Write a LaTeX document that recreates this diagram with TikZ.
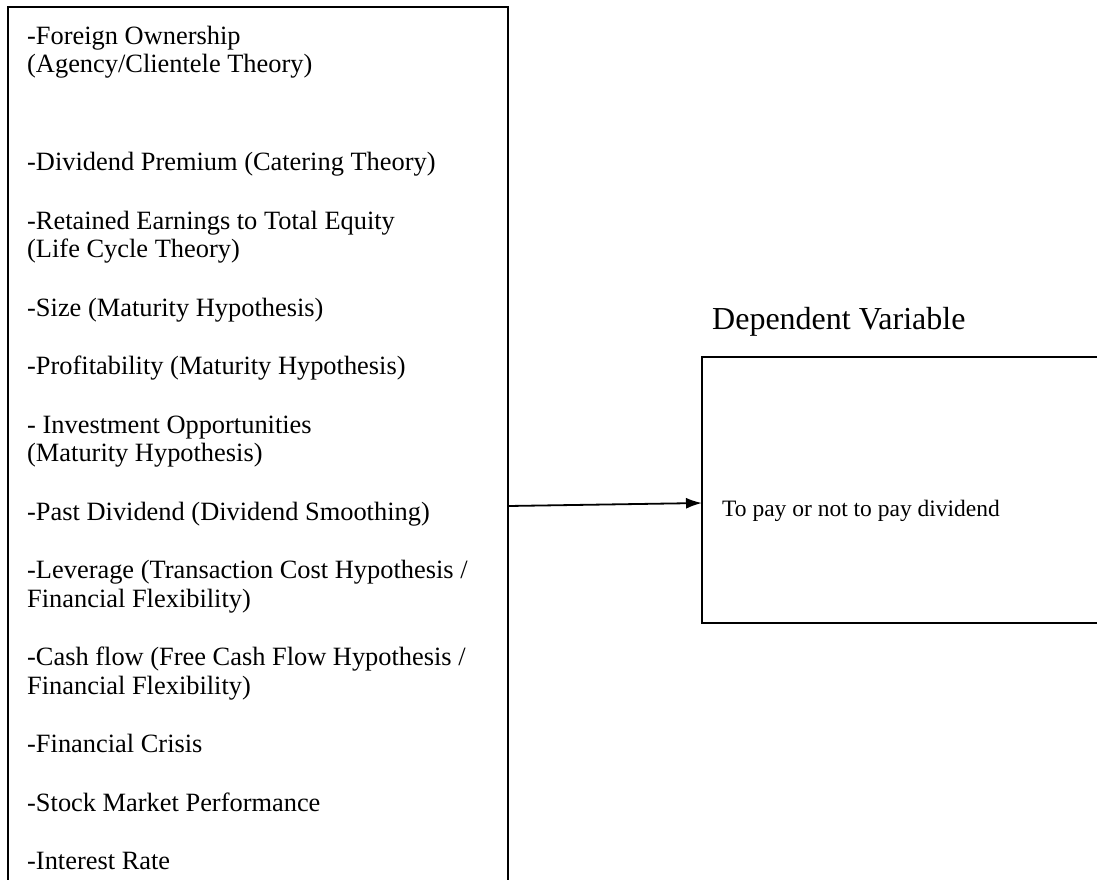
\documentclass[tikz,border=0pt]{standalone}
\usepackage{fontspec}
\setmainfont{Liberation Serif}
\usetikzlibrary{arrows.meta}
\begin{document}
\begin{tikzpicture}[x=1pt,y=-1pt,
  item/.style={anchor=base west,inner sep=0pt,font=\fontsize{26.4}{30}\selectfont},
  frame/.style={draw=black,line width=2.2pt},
  link/.style={draw=black,line width=1.8pt,-{Latex[length=16pt,width=11pt]}}]
\useasboundingbox (0,0) rectangle (1097,879);
% left box: explanatory variables (runs off the bottom edge)
\draw[frame] (8,900) -- (8,7) -- (508,7) -- (508,900);
\node[item] (v1)  at (27,44)    {-Foreign Ownership};
\node[item] (v1b) at (27,72)    {(Agency/Clientele Theory)};
\node[item] (v2)  at (27,170.5) {-Dividend Premium (Catering Theory)};
\node[item] (v3)  at (27,229)   {-Retained Earnings to Total Equity};
\node[item] (v3b) at (27,257.5) {(Life Cycle Theory)};
\node[item] (v4)  at (27,316)   {-Size (Maturity Hypothesis)};
\node[item] (v5)  at (27,374.5) {-Profitability (Maturity Hypothesis)};
\node[item] (v6)  at (27,433)   {- Investment Opportunities};
\node[item] (v6b) at (27,461.5) {(Maturity Hypothesis)};
\node[item] (v7)  at (27,520)   {-Past Dividend (Dividend Smoothing)};
\node[item] (v8)  at (27,578.5) {-Leverage (Transaction Cost Hypothesis /};
\node[item] (v8b) at (27,607)   {Financial Flexibility)};
\node[item] (v9)  at (27,665.5) {-Cash flow (Free Cash Flow Hypothesis /};
\node[item] (v9b) at (27,694)   {Financial Flexibility)};
\node[item] (v10) at (27,752.5) {-Financial Crisis};
\node[item] (v11) at (27,811)   {-Stock Market Performance};
\node[item] (v12) at (27,869.5) {-Interest Rate};
% right box: dependent variable (runs off the right edge)
\node[anchor=base west,inner sep=0pt,font=\fontsize{32}{36}\selectfont] (dvl) at (712,329) {Dependent Variable};
\draw[frame] (1120,357) -- (702,357) -- (702,623) -- (1120,623);
\coordinate (ivbox) at (508,506);
\coordinate (dvbox) at (702,503);
\node[anchor=base west,inner sep=0pt,font=\fontsize{23.5}{28}\selectfont] (dv) at (722,516) {To pay or not to pay dividend};
\draw[link] (ivbox) -- (dvbox);
\end{tikzpicture}
\end{document}
